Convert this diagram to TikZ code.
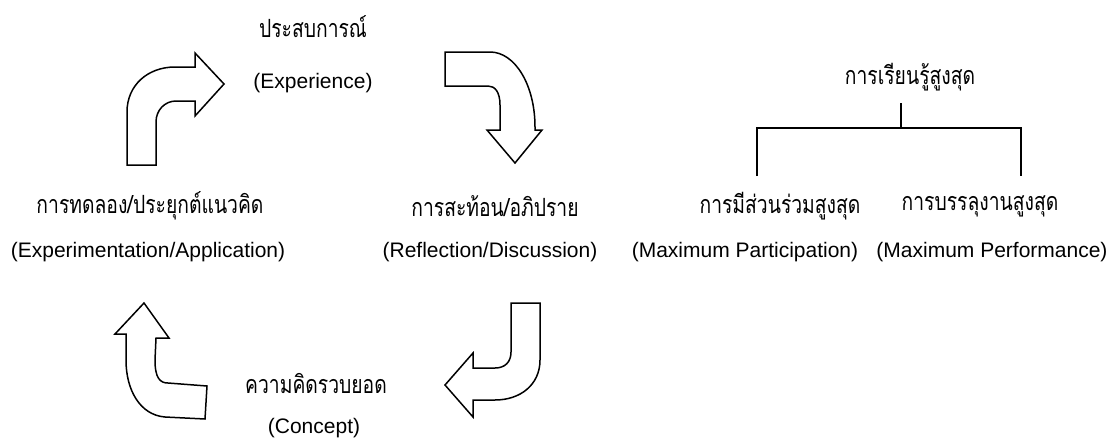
\documentclass[tikz,border=0pt]{standalone}
\usepackage{fontspec}
\usepackage{graphicx}
\setmainfont{Liberation Sans}
\newfontfamily\thai[Script=Thai]{Loma}
\newcommand{\thaitext}[1]{\scalebox{1}[1.3]{\thai\fontsize{19.3}{24}\selectfont #1}}
\begin{document}
\begin{tikzpicture}[x=1pt,y=-1pt,
  lat/.style={inner sep=0pt,anchor=center,font=\fontsize{21}{25}\selectfont},
  th/.style={inner sep=0pt,anchor=center},
  bent/.style={draw=black,line width=1.5pt,fill=white,line join=miter},
  tree/.style={draw=black,line width=1.5pt}]
\useasboundingbox (0,0) rectangle (1120,437);
% texts
\node[th]  (exth) at (313,27) {\thaitext{ประสบการณ์}};
\node[lat] (exen) at (313,83) {(Experience)};
\node[th]  (apth) at (150,206) {\thaitext{การทดลอง/ประยุกต์แนวคิด}};
\node[lat] (apen) at (148,252) {(Experimentation/Application)};
\node[th]  (reth) at (495,206) {\thaitext{การสะท้อน/อภิปราย}};
\node[lat] (reen) at (490,252) {(Reflection/Discussion)};
\node[th]  (coth) at (316,383) {\thaitext{ความคิดรวบยอด}};
\node[lat] (coen) at (314,428) {(Concept)};
\node[th]  (learn) at (910,77) {\thaitext{การเรียนรู้สูงสุด}};
\node[th]  (parth) at (780,206) {\thaitext{การมีส่วนร่วมสูงสุด}};
\node[th]  (perth) at (980,206) {\thaitext{การบรรลุงานสูงสุด}};
\node[lat] (paren) at (745,252) {(Maximum Participation)};
\node[lat] (peren) at (992,252) {(Maximum Performance)};
% tree
\coordinate (ttop) at (901,103);
\coordinate (tmid) at (901,128);
\coordinate (tl) at (757,128);
\coordinate (tr) at (1021,128);
\coordinate (tlb) at (757,176);
\coordinate (trb) at (1021,176);
\draw[tree] (ttop) -- (tmid);
\draw[tree] (tlb) -- (tl) -- (tr) -- (trb);
% bent arrows
\draw[bent] (127,165) -- (127,112) .. controls (127,85) and (148,67) .. (175,67)
  -- (195,67) -- (195,53) -- (224,84) -- (195,116) -- (195,101) -- (176,101)
  .. controls (165,101) and (156,110) .. (156,122) -- (156,165) -- cycle;
\draw[bent] (445,52) -- (490,52) .. controls (515,52) and (535,85) .. (535,127)
  -- (535,130) -- (542,130) -- (515,163) -- (487,130) -- (500,130) -- (500,105)
  .. controls (500,92) and (495,86) .. (488,86) -- (445,86) -- cycle;
\draw[bent] (511,303) -- (540,303) -- (540,360) .. controls (540,385) and (520,400) .. (495,400)
  -- (473,400) -- (473,417) -- (445,385) -- (473,353) -- (473,368) -- (495,368)
  .. controls (505,368) and (511,362) .. (511,352) -- cycle;
\draw[bent] (144,303) -- (169,338) -- (156,338) -- (155,360)
  .. controls (155,378) and (160,383) .. (168,383) -- (207,386) -- (205,419) -- (165,417)
  .. controls (140,415) and (126,390) .. (126,360) -- (126,334) -- (115,334) -- cycle;
\end{tikzpicture}
\end{document}
